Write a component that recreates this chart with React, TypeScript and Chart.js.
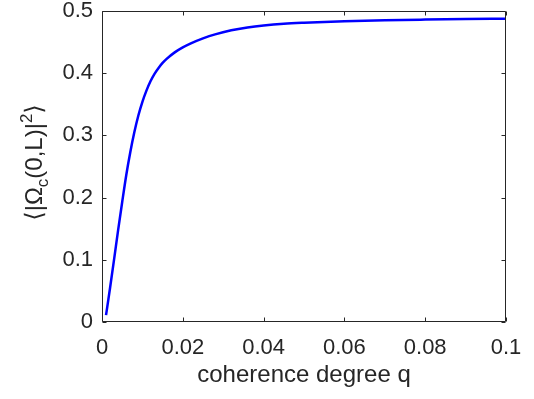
import React, { useEffect, useRef } from 'react';
import { Chart, registerables } from 'chart.js';

Chart.register(...registerables);

// ---- data ----
const qValues = [
  0.001, 0.002, 0.003, 0.004, 0.005, 0.006, 0.007, 0.008, 0.009, 0.010,
  0.011, 0.012, 0.013, 0.014, 0.015, 0.016, 0.018, 0.020, 0.022, 0.025,
  0.028, 0.032, 0.036, 0.040, 0.045, 0.050, 0.060, 0.070, 0.080, 0.090, 0.100,
];
const meanSquare = [
  0.011, 0.055, 0.101, 0.148, 0.193, 0.236, 0.273, 0.305, 0.332, 0.354,
  0.372, 0.387, 0.399, 0.4085, 0.4165, 0.423, 0.4335, 0.4415, 0.448, 0.456,
  0.4625, 0.469, 0.4735, 0.4767, 0.4795, 0.4812, 0.4837, 0.4852, 0.4862, 0.487, 0.4876,
];
const xTickValues = [0, 0.02, 0.04, 0.06, 0.08, 0.1];
const xTickLabels = ['0', '0.02', '0.04', '0.06', '0.08', '0.1'];
const yTickValues = [0, 0.1, 0.2, 0.3, 0.4, 0.5];
const yTickLabels = ['0', '0.1', '0.2', '0.3', '0.4', '0.5'];
const xTitle = 'coherence degree q';
// y title pieces: text, role (normal / sub / sup)
const yTitleParts: [string, string][] = [
  ['\u27E8|\u03A9', 'n'],
  ['c', 'sub'],
  ['(0,L)|', 'n'],
  ['2', 'sup'],
  ['\u27E9', 'n'],
];

const FONT = "'Liberation Sans', Arial, Helvetica, 'DejaVu Sans', sans-serif";
const TEXT = '#262626';

const boxPlugin = {
  id: 'matlabBox',
  afterDatasetsDraw(chart: any) {
    const { ctx, chartArea } = chart;
    const xs = chart.scales.x;
    const ys = chart.scales.y;
    const l = Math.round(chartArea.left) + 0.5;
    const r = Math.round(chartArea.right) - 0.5;
    const t = Math.round(chartArea.top) + 0.5;
    const b = Math.round(chartArea.bottom) - 0.5;
    ctx.save();
    ctx.strokeStyle = TEXT;
    ctx.lineWidth = 1;
    ctx.beginPath();
    ctx.rect(l, t, r - l, b - t);
    const tl = 4;
    xTickValues.forEach((v) => {
      const px = Math.round(xs.getPixelForValue(v)) + 0.5;
      ctx.moveTo(px, b);
      ctx.lineTo(px, b - tl);
      ctx.moveTo(px, t);
      ctx.lineTo(px, t + tl);
    });
    yTickValues.forEach((v) => {
      const py = Math.round(ys.getPixelForValue(v)) + 0.5;
      ctx.moveTo(l, py);
      ctx.lineTo(l + tl, py);
      ctx.moveTo(r, py);
      ctx.lineTo(r - tl, py);
    });
    ctx.stroke();
    ctx.restore();
  },
};

const yTitlePlugin = {
  id: 'yTitle',
  afterDraw(chart: any) {
    const { ctx, chartArea } = chart;
    const main = 24;
    const small = 17;
    ctx.save();
    ctx.fillStyle = TEXT;
    ctx.textBaseline = 'alphabetic';
    ctx.textAlign = 'left';
    const widths = yTitleParts.map(([txt, role]) => {
      ctx.font = `${role === 'n' ? main : small}px ${FONT}`;
      return ctx.measureText(txt).width;
    });
    const total = widths.reduce((a, b) => a + b, 0);
    const cy = (chartArea.top + chartArea.bottom) / 2 - 4;
    ctx.translate(42, cy);
    ctx.rotate(-Math.PI / 2);
    let x = -total / 2;
    yTitleParts.forEach(([txt, role], i) => {
      ctx.font = `${role === 'n' ? main : small}px ${FONT}`;
      const dy = role === 'sub' ? 6 : role === 'sup' ? -10 : 0;
      ctx.fillText(txt, x, dy);
      x += widths[i];
    });
    ctx.restore();
  },
};

export default function App() {
  const ref = useRef<HTMLCanvasElement | null>(null);
  useEffect(() => {
    if (!ref.current) return;
    const chart = new Chart(ref.current, {
      type: 'line',
      data: {
        datasets: [
          {
            data: qValues.map((q, i) => ({ x: q, y: meanSquare[i] })),
            borderColor: '#0000ff',
            borderWidth: 2.5,
            pointRadius: 0,
            fill: false,
            cubicInterpolationMode: 'monotone',
          },
        ],
      },
      options: {
        responsive: false,
        animation: false,
        devicePixelRatio: 1,
        layout: { padding: { left: 0, right: 28, top: 11, bottom: 0 } },
        plugins: { legend: { display: false }, tooltip: { enabled: false } },
        scales: {
          x: {
            type: 'linear',
            min: 0,
            max: 0.1,
            grid: { display: false, drawTicks: false },
            border: { display: false },
            afterBuildTicks: (s: any) => {
              s.ticks = xTickValues.map((v) => ({ value: v }));
            },
            afterFit: (s: any) => {
              s.height = 77;
              s.paddingLeft = 0;
              s.paddingRight = 0;
            },
            ticks: {
              padding: 13,
              color: TEXT,
              font: { family: FONT, size: 22 },
              maxRotation: 0,
              autoSkip: false,
              callback: (_v: any, i: number) => xTickLabels[i],
            },
            title: {
              display: true,
              text: xTitle,
              color: TEXT,
              font: { family: FONT, size: 24 },
              padding: { top: 0, bottom: 9 },
            },
          },
          y: {
            type: 'linear',
            min: 0,
            max: 0.5,
            grid: { display: false, drawTicks: false },
            border: { display: false },
            afterBuildTicks: (s: any) => {
              s.ticks = yTickValues.map((v) => ({ value: v }));
            },
            afterFit: (s: any) => {
              s.width = 102;
              s.paddingTop = 0;
              s.paddingBottom = 0;
            },
            ticks: {
              padding: 9,
              color: TEXT,
              font: { family: FONT, size: 22 },
              autoSkip: false,
              callback: (_v: any, i: number) => yTickLabels[i],
            },
          },
        },
      },
      plugins: [boxPlugin, yTitlePlugin],
    } as any);
    return () => chart.destroy();
  }, []);
  return (
    <div style={{ position: 'fixed', left: 0, top: 0, width: 534, height: 399, background: '#fff' }}>
      <canvas ref={ref} width={534} height={399} style={{ width: 534, height: 399 }} />
    </div>
  );
}
